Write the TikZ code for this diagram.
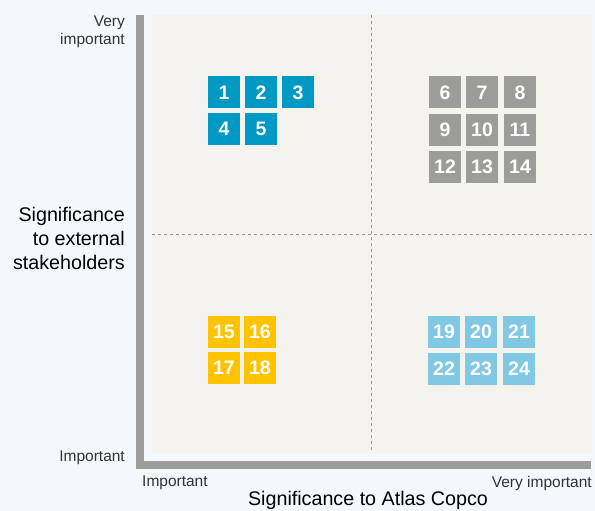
\documentclass[tikz,border=0pt]{standalone}
\usepackage{fontspec}
\setmainfont{Liberation Sans}
\definecolor{pagebg}{HTML}{F4F8FC}
\definecolor{plotbg}{HTML}{F4F3EE}
\definecolor{axisgray}{HTML}{9D9D9B}
\definecolor{dashgray}{HTML}{9A9A98}
\definecolor{acblue}{HTML}{0099C4}
\definecolor{acgray}{HTML}{9C9C9A}
\definecolor{acyellow}{HTML}{FFC300}
\definecolor{aclight}{HTML}{80C8E4}
\definecolor{txt}{HTML}{333333}
\tikzset{
  tile/.style={minimum width=32pt, minimum height=32pt, inner sep=0pt, text=white, font=\fontsize{19.5}{19.5}\selectfont\bfseries},
  bluetile/.style={tile, fill=acblue},
  graytile/.style={tile, fill=acgray},
  yellowtile/.style={tile, fill=acyellow},
  lighttile/.style={tile, fill=aclight},
  smalllabel/.style={text=txt, inner sep=0pt, font=\fontsize{15.5}{18}\selectfont},
  biglabel/.style={text=black, inner sep=0pt, font=\fontsize{19.7}{24}\selectfont},
  divider/.style={dashgray, line width=0.8pt, dash pattern=on 3pt off 3pt}
}
\begin{document}
\begin{tikzpicture}[x=1pt,y=-1pt]
\useasboundingbox (0,0) rectangle (595,511);
\fill[pagebg] (0,0) rectangle (595,511);
% plot area
\fill[plotbg] (152,15) rectangle (592,453);
% axes
\fill[axisgray] (136,15) rectangle (144,469);
\fill[axisgray] (136,461) rectangle (591,469);
% dividers
\coordinate (vt) at (371,15);
\coordinate (vb) at (371,453);
\coordinate (hl) at (152,234);
\coordinate (hr) at (592,234);
\draw[divider] (vt) -- (vb);
\draw[divider] (hl) -- (hr);
% blue tiles
\node[bluetile] (t1) at (224,92.5) {1};
\node[bluetile] (t2) at (261,92.5) {2};
\node[bluetile] (t3) at (298,92.5) {3};
\node[bluetile] (t4) at (224,129) {4};
\node[bluetile] (t5) at (261,129) {5};
% gray tiles
\node[graytile] (t6) at (445,92.5) {6};
\node[graytile] (t7) at (482,92.5) {7};
\node[graytile] (t8) at (520,92.5) {8};
\node[graytile] (t9) at (445,130) {9};
\node[graytile] (t10) at (482,130) {10};
\node[graytile] (t11) at (520,130) {11};
\node[graytile] (t12) at (445,167) {12};
\node[graytile] (t13) at (482,167) {13};
\node[graytile] (t14) at (520,167) {14};
% yellow tiles
\node[yellowtile] (t15) at (224,331.5) {15};
\node[yellowtile] (t16) at (260,331.5) {16};
\node[yellowtile] (t17) at (224,368) {17};
\node[yellowtile] (t18) at (260,368) {18};
% light blue tiles
\node[lighttile] (t19) at (444,331.5) {19};
\node[lighttile] (t20) at (481,331.5) {20};
\node[lighttile] (t21) at (519,331.5) {21};
\node[lighttile] (t22) at (444,368.5) {22};
\node[lighttile] (t23) at (481,368.5) {23};
\node[lighttile] (t24) at (519,368.5) {24};
% labels
\node[smalllabel, anchor=north east, align=right] (vimp) at (125,16) {Very\\important};
\node[biglabel, anchor=east, align=right] (ylab) at (125,238) {Significance\\to external\\stakeholders};
\node[smalllabel, anchor=east] (imp) at (125,458) {Important};
\node[smalllabel, anchor=west] (ximp) at (142,483) {Important};
\node[smalllabel, anchor=east] (xvimp) at (592,483) {Very important};
\node[biglabel] (xlab) at (368,500) {Significance to Atlas Copco};
\end{tikzpicture}
\end{document}
